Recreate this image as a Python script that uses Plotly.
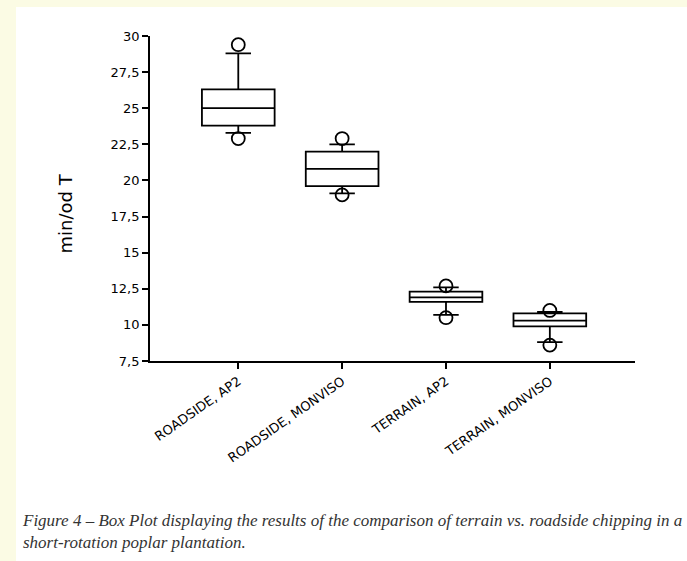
import plotly.graph_objects as go

categories = ["ROADSIDE, AP2", "ROADSIDE, MONVISO", "TERRAIN, AP2", "TERRAIN, MONVISO"]
q1 = [23.8, 19.6, 11.6, 9.9]
median = [25.0, 20.8, 11.9, 10.3]
q3 = [26.3, 22.0, 12.3, 10.8]
lower_whisker = [23.3, 19.1, 10.7, 8.8]
upper_whisker = [28.8, 22.5, 12.6, 10.9]
max_points = [29.4, 22.9, 12.7, 11.0]
min_points = [22.9, 19.0, 10.5, 8.6]

y_tickvals = [7.5, 10, 12.5, 15, 17.5, 20, 22.5, 25, 27.5, 30]
y_ticktext = ["7,5", "10", "12,5", "15", "17,5", "20", "22,5", "25", "27,5", "30"]

fig = go.Figure()

fig.add_trace(go.Box(
    x=categories, q1=q1, median=median, q3=q3,
    lowerfence=lower_whisker, upperfence=upper_whisker,
    boxpoints=False, width=0.7, whiskerwidth=0.35,
    line=dict(color="black", width=1.8), fillcolor="white",
    showlegend=False, hoverinfo="skip"))

fig.add_trace(go.Scatter(
    x=categories + categories, y=max_points + min_points, mode="markers",
    marker=dict(symbol="circle-open", size=13, color="black", line=dict(width=1.8)),
    showlegend=False, hoverinfo="skip"))

hand = "DejaVu Sans"
cream = "#FBFBE4"

fig.update_layout(
    width=687, height=561,
    margin=dict(l=150, r=52, t=36, b=200),
    paper_bgcolor="white", plot_bgcolor="white",
    xaxis=dict(
        range=[-0.85, 3.82], showline=True, linecolor="black", linewidth=1.8,
        ticks="outside", ticklen=6, tickcolor="black", tickwidth=1.5,
        tickangle=-35, tickfont=dict(family=hand, size=13, color="black"),
        showgrid=False, zeroline=False),
    yaxis=dict(
        range=[7.5, 30], showline=True, linecolor="black", linewidth=1.8,
        tickvals=y_tickvals, ticktext=y_ticktext,
        ticks="outside", ticklen=6, tickcolor="black", tickwidth=1.5,
        tickfont=dict(family=hand, size=13, color="black"),
        showgrid=False, zeroline=False),
    shapes=[
        dict(type="rect", xref="paper", yref="paper",
             x0=-150 / 485, x1=(16 - 150) / 485, y0=-0.7, y1=1.2,
             fillcolor=cream, line=dict(width=0), layer="below"),
        dict(type="rect", xref="paper", yref="paper",
             x0=-150 / 485, x1=1.2, y0=(361 - 7) / 325, y1=1.2,
             fillcolor=cream, line=dict(width=0), layer="below"),
    ],
    annotations=[
        dict(text="min/od T", xref="paper", yref="paper",
             x=(52 - 150) / 485, y=(361 - 214) / 325, textangle=-90,
             showarrow=False, font=dict(family=hand, size=18, color="black")),
        dict(text="<i>Figure 4 – Box Plot displaying the results of the comparison of terrain vs. roadside chipping in a<br>short-rotation poplar plantation.</i>",
             xref="paper", yref="paper", x=(20 - 150) / 485, y=(361 - 509) / 325,
             xanchor="left", yanchor="top", align="left", showarrow=False,
             font=dict(family="Liberation Serif", size=17, color="#333333")),
    ],
)

fig.write_html("out.html", config={"displayModeBar": False},
               post_script="document.body.style.margin='0';document.body.style.background='white';")
